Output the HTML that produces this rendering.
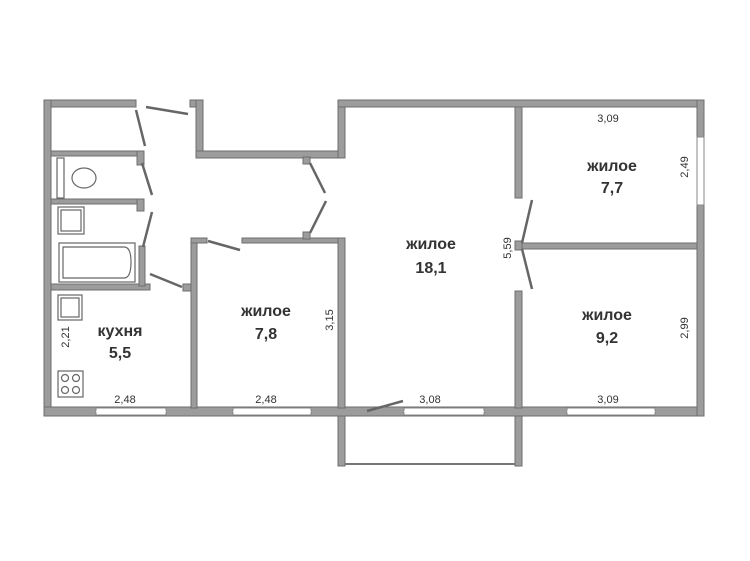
<!DOCTYPE html>
<html><head><meta charset="utf-8"><style>
html,body{margin:0;padding:0;background:#fff;}
svg{display:block}
text{font-family:"Liberation Sans",sans-serif;fill:#333}
.l{font-size:16px;font-weight:bold;text-anchor:middle}
.d{font-size:11px;text-anchor:middle}
</style></head><body>
<svg width="750" height="561" viewBox="0 0 750 561" xmlns="http://www.w3.org/2000/svg">
<g fill="#9c9c9c" stroke="#6e6e6e" stroke-width="1">
<!-- outer left block -->
<rect x="44" y="100" width="92" height="7"/>
<rect x="44" y="100" width="7" height="316"/>
<rect x="44" y="407" width="660" height="9"/>
<rect x="190" y="100" width="13" height="7"/>
<rect x="196" y="100" width="7" height="57"/>
<rect x="196" y="151" width="149" height="7"/>
<rect x="338" y="100" width="7" height="58"/>
<rect x="338" y="100" width="366" height="7"/>
<rect x="697" y="100" width="7" height="316"/>
<!-- bathroom partitions -->
<rect x="51" y="151" width="90" height="5"/>
<rect x="51" y="199" width="90" height="5"/>
<rect x="51" y="284" width="99" height="6"/>
<rect x="137" y="151" width="7" height="14"/>
<rect x="137" y="199" width="7" height="12"/>
<rect x="139" y="246" width="6" height="40"/>
<rect x="183" y="284" width="9" height="7"/>
<!-- room 7.8 -->
<rect x="191" y="238" width="6" height="170"/>
<rect x="191" y="238" width="16" height="5"/>
<rect x="242" y="238" width="103" height="5"/>
<rect x="338" y="238" width="7" height="170"/>
<rect x="303" y="157" width="7" height="7"/>
<rect x="303" y="232" width="7" height="7"/>
<!-- right rooms -->
<rect x="515" y="107" width="7" height="91"/>
<rect x="515" y="291" width="7" height="117"/>
<rect x="515" y="241" width="7" height="9"/>
<rect x="522" y="243" width="175" height="6"/>
<!-- balcony -->
<rect x="338" y="416" width="7" height="50"/>
<rect x="515" y="416" width="7" height="50"/>
</g>
<line x1="345" y1="464" x2="515" y2="464" stroke="#777" stroke-width="2"/>
<!-- windows -->
<g fill="#fff" stroke="#888" stroke-width="1">
<rect x="96" y="408" width="70" height="7"/>
<rect x="233" y="408" width="78" height="7"/>
<rect x="404" y="408" width="80" height="7"/>
<rect x="567" y="408" width="88" height="7"/>
<rect x="697" y="137" width="7" height="68"/>
</g>
<g stroke="#fff" stroke-width="1"><line x1="96" y1="411.5" x2="166" y2="411.5"/><line x1="233" y1="411.5" x2="311" y2="411.5"/><line x1="404" y1="411.5" x2="484" y2="411.5"/><line x1="567" y1="411.5" x2="655" y2="411.5"/></g>
<!-- doors -->
<g stroke="#666" stroke-width="2.5">
<line x1="146" y1="107" x2="188" y2="114"/>
<line x1="136" y1="110" x2="145" y2="146"/>
<line x1="142" y1="163" x2="152" y2="195"/>
<line x1="152" y1="212" x2="143" y2="247"/>
<line x1="150" y1="274" x2="182" y2="287"/>
<line x1="208" y1="241" x2="240" y2="250"/>
<line x1="310" y1="163" x2="325" y2="193"/>
<line x1="310" y1="233" x2="326" y2="201"/>
<line x1="522" y1="243" x2="532" y2="200"/>
<line x1="522" y1="249" x2="532" y2="289"/>
<line x1="367" y1="411" x2="403" y2="401"/>
</g>
<!-- fixtures -->
<g fill="#fff" stroke="#666" stroke-width="1.2">
<rect x="57" y="158" width="7" height="40"/>
<ellipse cx="84" cy="178" rx="12" ry="10"/>
<rect x="58" y="207" width="26" height="27"/><rect x="61" y="210" width="20" height="21"/>
<rect x="59" y="243" width="76" height="39"/><path d="M63 247 H124 Q131 247 131 262 Q131 278 124 278 H63 Z"/>
<rect x="58" y="295" width="24" height="25"/><rect x="61" y="298" width="18" height="19"/>
<rect x="58" y="371" width="25" height="26"/>
<circle cx="65" cy="378" r="3.5"/><circle cx="76" cy="378" r="3.5"/><circle cx="65" cy="390" r="3.5"/><circle cx="76" cy="390" r="3.5"/>
</g>
<text class="l" x="120" y="336">кухня</text><text class="l" x="120" y="358">5,5</text>
<text class="l" x="266" y="316">жилое</text><text class="l" x="266" y="339">7,8</text>
<text class="l" x="431" y="249">жилое</text><text class="l" x="431" y="273">18,1</text>
<text class="l" x="612" y="171">жилое</text><text class="l" x="612" y="193">7,7</text>
<text class="l" x="607" y="320">жилое</text><text class="l" x="607" y="343">9,2</text>
<text class="d" x="125" y="403">2,48</text><text class="d" x="266" y="403">2,48</text>
<text class="d" x="430" y="403">3,08</text><text class="d" x="608" y="403">3,09</text>
<text class="d" x="608" y="122">3,09</text>
<text class="d" transform="translate(69,337) rotate(-90)">2,21</text>
<text class="d" transform="translate(333,320) rotate(-90)">3,15</text>
<text class="d" transform="translate(511,248) rotate(-90)">5,59</text>
<text class="d" transform="translate(688,167) rotate(-90)">2,49</text>
<text class="d" transform="translate(688,328) rotate(-90)">2,99</text>
</svg>
</body></html>
